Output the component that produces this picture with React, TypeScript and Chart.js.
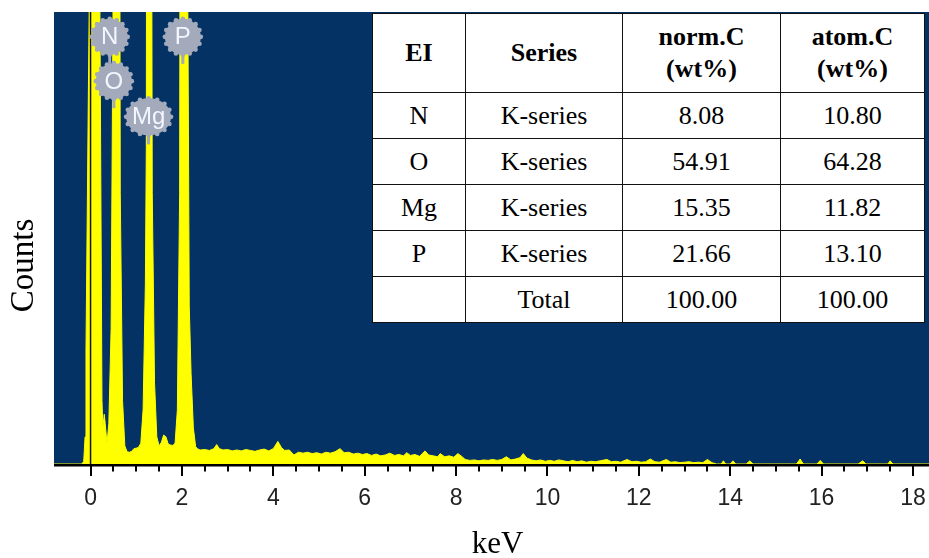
import React, { useEffect, useRef } from "react";
import { Chart, registerables } from "chart.js";

Chart.register(...registerables);

// ---- spectrum data (keV, counts in plot units; 100 = top of plot) ----
const energies = [
  -0.8, -0.2, -0.15, -0.12, -0.1, -0.05, 0.0, 0.05, 0.1, 0.15, 0.2, 0.25, 0.27, 0.3, 0.32, 0.36, 0.4, 0.45,
  0.5, 0.55, 0.6, 0.65, 0.7, 0.75, 0.8, 0.85, 0.9, 0.95, 1.0, 1.05, 1.1, 1.15, 1.2, 1.22, 1.25, 1.3, 1.35, 1.4,
  1.45, 1.5, 1.55, 1.6, 1.65, 1.7, 1.75, 1.8, 1.85, 1.9, 1.95, 2.0, 2.05, 2.1, 2.13, 2.16, 2.2, 2.25, 2.3,
  2.35, 2.4, 2.5, 2.6, 2.7, 2.76, 2.82, 2.9, 3.0, 3.1, 3.2, 3.3, 3.4, 3.5, 3.6, 3.7, 3.8, 3.9, 4.0, 4.1,
  4.18, 4.25, 4.35, 4.45, 4.55, 4.65, 4.75, 4.85, 4.95, 5.05, 5.15, 5.25, 5.35, 5.46, 5.55, 5.65, 5.75,
  5.85, 5.95, 6.05, 6.15, 6.25, 6.35, 6.45, 6.55, 6.65, 6.75, 6.85, 6.92, 7.0, 7.1, 7.2, 7.32, 7.4, 7.5,
  7.6, 7.65, 7.75, 7.85, 7.95, 8.04, 8.12, 8.2, 8.3, 8.4, 8.5, 8.6, 8.7, 8.8, 8.9, 9.0, 9.1, 9.2, 9.3,
  9.4, 9.47, 9.55, 9.65, 9.75, 9.85, 9.95, 10.05, 10.15, 10.25, 10.35, 10.45, 10.55, 10.65, 10.75, 10.85,
  10.95, 11.05, 11.15, 11.3, 11.4, 11.5, 11.6, 11.74, 11.85, 11.95, 12.05, 12.15, 12.25, 12.35, 12.45,
  12.6, 12.7, 12.8, 12.9, 13.0, 13.1, 13.2, 13.3, 13.4, 13.5, 13.6, 13.7, 13.8, 13.85, 13.9, 14.0, 14.06,
  14.12, 14.35, 14.43, 14.5, 15.45, 15.53, 15.6, 15.9, 15.97, 16.04, 16.8, 16.9, 16.97, 17.45, 17.5,
  17.56, 18.4,
];
const counts = [
  0, 0, 0.5, 6, 25, 80, 130, 400, 420, 300, 110, 14, 8, 11, 9, 4.5, 9, 30,
  115, 420, 400, 60, 14, 4, 2.7, 2.6, 2.8, 3.4, 3.5, 3.7, 4.6, 12, 40, 70, 320, 320, 60, 18,
  6, 4, 4.8, 6.4, 6, 4.4, 4.2, 4.1, 4.6, 12, 60, 420, 450, 380, 100, 35, 20, 8, 3.8,
  3.3, 3.1, 3.2, 3.0, 3.4, 4.3, 3.4, 3.1, 3.2, 2.9, 3.1, 2.9, 3.2, 3.0, 2.8, 3.1, 3.3, 2.9, 3.4, 5.0,
  3.6, 3.0, 3.1, 2.0, 2.6, 2.4, 2.6, 2.3, 2.5, 2.2, 2.6, 2.4, 2.7, 3.4, 2.5, 2.6, 2.2,
  2.4, 2.1, 2.3, 1.9, 2.2, 1.8, 2.0, 2.4, 1.9, 2.1, 1.8, 2.5, 1.9, 2.1, 1.7, 2.9, 2.0, 1.8,
  1.6, 2.3, 1.6, 1.8, 1.5, 2.3, 1.7, 1.0, 0.8, 0.9, 0.7, 0.9, 0.8, 1.0, 0.8, 1.0, 1.6, 0.9, 1.1,
  1.4, 2.3, 1.3, 0.9, 0.7, 0.9, 0.6, 0.8, 0.6, 0.9, 0.7, 0.5, 0.8, 0.5, 0.7, 0.4,
  0.6, 0.5, 0.7, 1.0, 0.5, 0.6, 0.4, 1.0, 0.5, 0.6, 0.4, 0.5, 1.1, 0.5, 0.4,
  1.0, 0.4, 0.5, 0.3, 0.4, 0.5, 0.3, 0.4, 0.3, 1.0, 0.3, 0, 0, 0.7, 0, 0, 0.7,
  0, 0, 0.7, 0, 0, 1.1, 0, 0, 0.8, 0, 0, 0.7, 0, 0, 0.7,
  0, 0,
];

// vertical marker at 0 keV
const zeroLineX = [0, 0];
const zeroLineY = [0, 100];

// axis ticks
const majorTicks = [0, 2, 4, 6, 8, 10, 12, 14, 16, 18];
const minorStep = 0.5;

// peak badges
const badgeLabels = ["N", "O", "Mg", "P"];
const badgeKeV = [0.42, 0.51, 1.27, 2.02];
const badgeLevel = [94.5, 84.7, 76.8, 94.5];

// table
const tableHeaders = [["EI"], ["Series"], ["norm.C", "(wt%)"], ["atom.C", "(wt%)"]];
const tableElements = ["N", "O", "Mg", "P", ""];
const tableSeries = ["K-series", "K-series", "K-series", "K-series", "Total"];
const tableNormC = ["8.08", "54.91", "15.35", "21.66", "100.00"];
const tableAtomC = ["10.80", "64.28", "11.82", "13.10", "100.00"];

const NAVY = "#053264";
const YELLOW = "#ffff00";
const BADGE = "#a2aabb";
const SERIF = '"Liberation Serif", "Times New Roman", serif';
const SANS = '"Liberation Sans", Arial, sans-serif';

const decorPlugin = {
  id: "decor",
  beforeDraw(chart: any) {
    const { ctx, chartArea: a } = chart;
    ctx.save();
    ctx.fillStyle = NAVY;
    ctx.fillRect(a.left, a.top, a.right - a.left, a.bottom - a.top);
    ctx.restore();
  },
  afterDraw(chart: any) {
    const { ctx, chartArea: a } = chart;
    const xs = chart.scales.x;
    const ys = chart.scales.y;
    ctx.save();
    // axis line
    ctx.fillStyle = "#000";
    ctx.fillRect(a.left, a.bottom, a.right - a.left, 2.5);
    // ticks
    ctx.strokeStyle = "#000";
    ctx.lineWidth = 2;
    for (let v = 0; v <= majorTicks[majorTicks.length - 1] + 1e-9; v += minorStep) {
      const px = Math.round(xs.getPixelForValue(v));
      const major = majorTicks.some((m) => Math.abs(m - v) < 1e-9);
      ctx.beginPath();
      ctx.moveTo(px, a.bottom + 2);
      ctx.lineTo(px, a.bottom + (major ? 12 : 7.5));
      ctx.stroke();
    }
    // badges
    for (let i = 0; i < badgeLabels.length; i++) {
      const cx = xs.getPixelForValue(badgeKeV[i]);
      const cy = ys.getPixelForValue(badgeLevel[i]);
      const wide = badgeLabels[i].length > 1;
      const rx = wide ? 22.5 : 18;
      const ry = wide ? 18.5 : 18;
      ctx.fillStyle = BADGE;
      ctx.fillRect(cx - 1.5, cy + ry - 2, 3, 11);
      ctx.beginPath();
      ctx.ellipse(cx, cy, rx, ry, 0, 0, Math.PI * 2);
      ctx.fill();
      const n = 16;
      for (let k = 0; k < n; k++) {
        const t = (k / n) * Math.PI * 2;
        ctx.beginPath();
        ctx.arc(cx + rx * Math.cos(t), cy + ry * Math.sin(t), 2.3, 0, Math.PI * 2);
        ctx.fill();
      }
      ctx.fillStyle = "#f3f6ff";
      ctx.font = `24px ${SANS}`;
      ctx.textAlign = "center";
      ctx.textBaseline = "middle";
      ctx.fillText(badgeLabels[i], cx, cy + 1);
    }
    // axis titles
    ctx.fillStyle = "#000";
    ctx.font = `31px ${SERIF}`;
    ctx.textAlign = "center";
    ctx.textBaseline = "alphabetic";
    ctx.fillText("keV", 497.5, 553);
    ctx.translate(33, 265.5);
    ctx.rotate(-Math.PI / 2);
    ctx.font = `33px ${SERIF}`;
    ctx.fillText("Counts", 0, 0);
    ctx.restore();
  },
};

export default function App() {
  const canvasRef = useRef<HTMLCanvasElement | null>(null);

  useEffect(() => {
    if (!canvasRef.current) return;
    const spectrum = energies.map((e, i) => ({ x: e, y: counts[i] }));
    const zero = zeroLineX.map((x, i) => ({ x, y: zeroLineY[i] }));
    const chart = new Chart(canvasRef.current, {
      type: "line",
      data: {
        datasets: [
          {
            label: "zero",
            data: zero,
            borderColor: "#151515",
            borderWidth: 1.5,
            pointRadius: 0,
            fill: false,
            order: 0,
          },
          {
            label: "spectrum",
            data: spectrum,
            borderColor: YELLOW,
            backgroundColor: YELLOW,
            borderWidth: 1,
            pointRadius: 0,
            tension: 0,
            fill: "origin",
            order: 1,
          },
        ],
      },
      options: {
        animation: false,
        responsive: false,
        maintainAspectRatio: false,
        layout: { padding: { left: 54, top: 12, right: 0, bottom: 45.7 } },
        plugins: {
          legend: { display: false },
          tooltip: { enabled: false },
          title: { display: false },
        },
        scales: {
          x: {
            type: "linear",
            min: -0.8,
            max: 18.35,
            grid: { display: false, drawTicks: true, tickLength: 20.7 },
            border: { display: false },
            ticks: {
              includeBounds: false,
              padding: 0,
              color: "#222",
              font: { family: SANS, size: 23 },
              maxRotation: 0,
              autoSkip: false,
            },
            afterBuildTicks: (s: any) => {
              s.ticks = majorTicks.map((v) => ({ value: v }));
            },
          },
          y: { display: false, min: 0, max: 100 },
        },
      },
      plugins: [decorPlugin],
    } as any);
    return () => chart.destroy();
  }, []);

  const cell: React.CSSProperties = {
    border: "1.5px solid #111",
    textAlign: "center",
    verticalAlign: "middle",
    padding: 0,
  };

  return (
    <div style={{ position: "fixed", left: 0, top: 0, width: 929, height: 558, background: "#fff" }}>
      <canvas
        ref={canvasRef}
        width={929}
        height={558}
        style={{ position: "absolute", left: 0, top: 0, width: 929, height: 558 }}
      />
      <table
        style={{
          position: "absolute",
          left: 372,
          top: 13,
          width: 552,
          height: 309,
          borderCollapse: "collapse",
          tableLayout: "fixed",
          background: "#fff",
          fontFamily: SERIF,
          fontSize: 26,
          color: "#000",
        }}
      >
        <colgroup>
          <col style={{ width: 93 }} />
          <col style={{ width: 157 }} />
          <col style={{ width: 158 }} />
          <col style={{ width: 144 }} />
        </colgroup>
        <tbody>
          <tr style={{ height: 79 }}>
            {tableHeaders.map((h, i) => (
              <td key={i} style={{ ...cell, fontWeight: "bold", lineHeight: "32px" }}>
                {h.map((line, j) => (
                  <div key={j}>{line}</div>
                ))}
              </td>
            ))}
          </tr>
          {tableElements.map((el, r) => (
            <tr key={r} style={{ height: 46 }}>
              <td style={cell}>{el}</td>
              <td style={cell}>{tableSeries[r]}</td>
              <td style={cell}>{tableNormC[r]}</td>
              <td style={cell}>{tableAtomC[r]}</td>
            </tr>
          ))}
        </tbody>
      </table>
    </div>
  );
}
